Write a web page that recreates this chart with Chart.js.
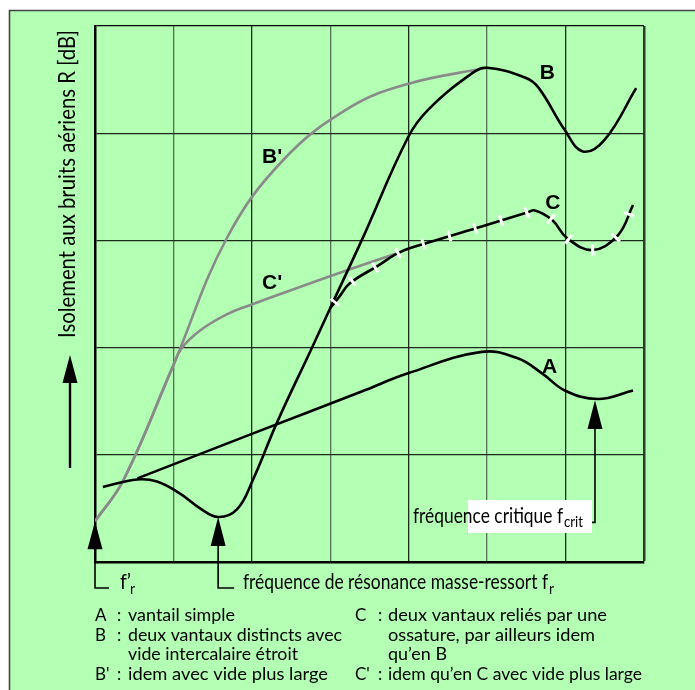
<!DOCTYPE html>
<html>
<head>
<meta charset="utf-8">
<script src="https://cdn.jsdelivr.net/npm/chart.js@4.4.0/dist/chart.umd.min.js"></script>
<style>
  html, body { margin: 0; padding: 0; background: #fff; }
  canvas { display: block; }
</style>
</head>
<body>
<canvas id="chart" width="695" height="690"></canvas>
<script>
// axes : fréquence (0..7 cases) et isolement (0..5 cases), pas de graduations chiffrées
const xMin = 0, xMax = 7;
const yMin = 0, yMax = 5;

// B' : idem avec vide plus large (gris)
const bPrimeX = [0, 0.36, 0.99, 1.68, 2.40, 3.25, 3.99, 4.99];
const bPrimeY = [0.38, 0.76, 1.82, 3.02, 3.75, 4.24, 4.46, 4.61];

// C' : idem qu'en C avec vide plus large (gris)
const cPrimeX = [0, 0.36, 0.99, 1.10, 1.34, 1.68, 1.99, 2.40, 3.25, 3.89];
const cPrimeY = [0.38, 0.76, 1.82, 1.99, 2.16, 2.31, 2.40, 2.51, 2.73, 2.89];

// B : deux vantaux distincts
const bX = [0.10, 0.54, 0.79, 1.08, 1.34, 1.57, 1.81, 2.01, 2.32, 2.78, 3.00, 3.40, 3.99, 4.25, 4.81, 5.00, 5.48, 5.65, 5.99, 6.22, 6.50, 6.90];
const bY = [0.70, 0.77, 0.75, 0.64, 0.50, 0.42, 0.49, 0.76, 1.30, 2.02, 2.37, 3.00, 3.96, 4.22, 4.56, 4.61, 4.52, 4.43, 4.03, 3.83, 3.94, 4.42];

// C : deux vantaux reliés par une ossature
const cX = [3.00, 3.11, 3.25, 3.60, 3.89, 4.25, 4.93, 5.51, 5.61, 5.83, 6.02, 6.35, 6.67, 6.86];
const cY = [2.37, 2.47, 2.60, 2.76, 2.89, 2.98, 3.13, 3.26, 3.28, 3.19, 3.02, 2.91, 3.05, 3.33];

// A : vantail simple
const aX = [0.54, 2.00, 3.40, 3.99, 4.93, 5.39, 5.70, 5.99, 6.41, 6.86];
const aY = [0.78, 1.195, 1.59, 1.76, 1.96, 1.90, 1.76, 1.60, 1.52, 1.60];

// fréquences repérées par une flèche
const fPrimeR = 0;      // f'r
const fR = 1.57;        // fréquence de résonance masse-ressort
const fCrit = 6.375;    // fréquence critique

const curveNames = ["B'", "C'", 'B', 'C', 'A'];

const legendLeft = [
  ['A', 'vantail simple'],
  ['B', 'deux vantaux distincts avec'],
  ['', 'vide intercalaire étroit'],
  ["B'", 'idem avec vide plus large']
];
const legendRight = [
  ['C', 'deux vantaux reliés par une'],
  ['', 'ossature, par ailleurs idem'],
  ['', 'qu’en B'],
  ["C'", 'idem qu’en C avec vide plus large']
];

const green = 'rgb(179,255,179)';
const FONT = 'Lato, "DejaVu Sans", sans-serif';

function pts(xs, ys) {
  return xs.map((x, i) => ({ x: x, y: ys[i] }));
}

// texte compressé horizontalement à une largeur donnée
function fitText(ctx, str, x, y, size, width, weight) {
  ctx.save();
  ctx.font = (weight || '') + ' ' + size + 'px ' + FONT;
  const w = ctx.measureText(str).width;
  const s = width ? width / w : 1;
  ctx.translate(x, y);
  ctx.scale(s, 1);
  ctx.fillText(str, 0, 0);
  ctx.restore();
}

function arrowUp(ctx, x, tip, base, end, hook) {
  ctx.fillStyle = '#000';
  ctx.beginPath();
  ctx.moveTo(x, tip);
  ctx.lineTo(x - 7.5, base);
  ctx.lineTo(x + 7.5, base);
  ctx.closePath();
  ctx.fill();
  ctx.strokeStyle = '#000';
  ctx.lineWidth = 1.6;
  ctx.beginPath();
  ctx.moveTo(x, base - 1);
  ctx.lineTo(x, end);
  if (hook !== undefined) ctx.lineTo(hook, end);
  ctx.stroke();
}

const background = {
  id: 'background',
  beforeDraw(chart) {
    const ctx = chart.ctx;
    ctx.save();
    ctx.fillStyle = '#fff';
    ctx.fillRect(0, 0, chart.width, chart.height);
    ctx.fillStyle = green;
    ctx.fillRect(9, 10, chart.width - 9, chart.height - 10);
    ctx.strokeStyle = '#444';
    ctx.lineWidth = 1.6;
    ctx.beginPath();
    ctx.moveTo(9.5, chart.height);
    ctx.lineTo(9.5, 10.5);
    ctx.lineTo(chart.width, 10.5);
    ctx.stroke();
    ctx.restore();
  }
};

const annotations = {
  id: 'annotations',
  afterDraw(chart) {
    const ctx = chart.ctx;
    const sx = chart.scales.x, sy = chart.scales.y;
    const px = v => sx.getPixelForValue(v);
    const py = v => sy.getPixelForValue(v);
    ctx.save();
    ctx.fillStyle = '#000';
    ctx.textBaseline = 'alphabetic';

    // noms des courbes
    const labelPos = [[2.13, 3.72], [2.13, 2.55], [5.67, 4.51], [5.74, 3.29], [5.70, 1.76]];
    ctx.font = 'bold 21px "Liberation Sans", Arial, sans-serif';
    curveNames.forEach((n, i) => ctx.fillText(n, px(labelPos[i][0]), py(labelPos[i][1])));

    // flèche de l'axe vertical
    ctx.fillStyle = '#000';
    ctx.beginPath();
    ctx.moveTo(70, 355);
    ctx.lineTo(62.5, 383);
    ctx.lineTo(77.5, 383);
    ctx.closePath();
    ctx.fill();
    ctx.lineWidth = 2.4;
    ctx.beginPath();
    ctx.moveTo(70, 380);
    ctx.lineTo(70, 468);
    ctx.stroke();

    // titre vertical
    ctx.save();
    ctx.translate(75, 338);
    ctx.rotate(-Math.PI / 2);
    fitText(ctx, 'Isolement aux bruits aériens R [dB]', 0, 0, 23, 308);
    ctx.restore();

    // flèches des fréquences
    const bottom = sy.bottom;
    arrowUp(ctx, px(fPrimeR), py(0.38), py(0.12), bottom + 26, px(fPrimeR) + 14);
    arrowUp(ctx, px(fR), py(0.42), py(0.15), bottom + 26, px(fR) + 16);
    arrowUp(ctx, px(fCrit), py(1.51), py(1.24), py(0.37), px(fCrit) - 4);

    // f'r
    fitText(ctx, 'f’', 120, 589, 22, 11);
    fitText(ctx, 'r', 130, 594, 15, 5);
    // fréquence de résonance
    fitText(ctx, 'fréquence de résonance masse-ressort f', 243, 589, 22, 305);
    fitText(ctx, 'r', 549, 594, 15, 5);

    // fréquence critique
    ctx.fillStyle = '#fff';
    ctx.fillRect(468, 500, 124, 33);
    ctx.fillStyle = '#000';
    fitText(ctx, 'fréquence critique f', 413, 523, 22, 150);
    fitText(ctx, 'crit', 564, 527, 15, 19);

    // légende
    const rows = [621, 640.5, 660, 680];
    const wl = [107, 214, 170, 200];
    const wr = [219, 207, 59, 254];
    legendLeft.forEach((r, i) => {
      if (r[0]) {
        fitText(ctx, r[0], 95, rows[i], 17);
        fitText(ctx, ':', 117, rows[i], 17);
      }
      fitText(ctx, r[1], 128, rows[i], 17, wl[i]);
    });
    legendRight.forEach((r, i) => {
      if (r[0]) {
        fitText(ctx, r[0], 355, rows[i], 17);
        fitText(ctx, ':', 378, rows[i], 17);
      }
      fitText(ctx, r[1], 388, rows[i], 17, wr[i]);
    });
    ctx.restore();
  }
};

const line = (data, color, width) => ({
  data: data,
  showLine: true,
  borderColor: color,
  borderWidth: width,
  pointRadius: 0,
  fill: false,
  tension: 0.4
});

const ticksC = line(pts(cX, cY), '#fff', 11);
ticksC.borderDash = [3, 24];
ticksC.borderDashOffset = 21;
ticksC.borderCapStyle = 'butt';

new Chart(document.getElementById('chart'), {
  type: 'scatter',
  data: {
    datasets: [
      ticksC,
      line(pts(cX, cY), '#000', 2.6),
      line(pts(bX, bY), '#000', 2.6),
      line(pts(aX, aY), '#000', 2.6),
      line(pts(cPrimeX, cPrimeY), '#8a8a8a', 2.6),
      line(pts(bPrimeX, bPrimeY), '#8a8a8a', 2.6)
    ]
  },
  options: {
    responsive: false,
    animation: false,
    events: [],
    layout: { padding: { left: 95, top: 26, right: 51, bottom: 128 } },
    plugins: { legend: { display: false }, tooltip: { enabled: false } },
    scales: {
      x: {
        type: 'linear', min: xMin, max: xMax,
        ticks: { display: false, stepSize: 1 },
        border: { display: true, color: '#000', width: 2.5 },
        grid: {
          drawTicks: false,
          color: c => c.tick.value === xMax ? '#2d3d2d' : (c.tick.value % 2 ? '#557055' : '#1c2a1c'),
          lineWidth: c => c.tick.value === xMax ? 2.5 : 1.3
        }
      },
      y: {
        type: 'linear', min: yMin, max: yMax,
        ticks: { display: false, stepSize: 1 },
        border: { display: true, color: '#000', width: 2.5 },
        grid: {
          drawTicks: false,
          color: c => c.tick.value === yMax ? '#000' : '#1c2a1c',
          lineWidth: 1.3
        }
      }
    }
  },
  plugins: [background, annotations]
});
</script>
</body>
</html>
